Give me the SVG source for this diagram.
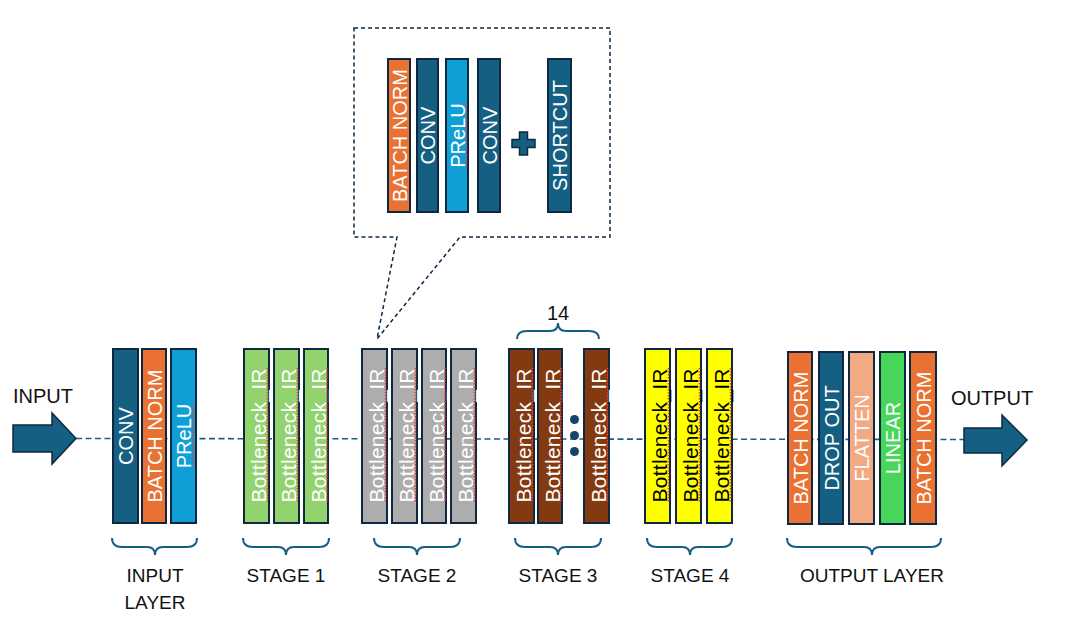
<svg xmlns="http://www.w3.org/2000/svg" width="1080" height="623" viewBox="0 0 1080 623">
<style>
.blk{stroke:#0E2841;stroke-width:2}
.conv{fill:#156082}
.bn{fill:#E97132}
.prelu{fill:#0F9ED5}
.g{fill:#92D36E}
.gr{fill:#ADADAD}
.br{fill:#843A10}
.y{fill:#FFFF00}
.fl{fill:#F2AA84}
.li{fill:#48D65A}
.t{font-family:"Liberation Sans",Arial,sans-serif;font-size:20px;fill:#fff;text-anchor:middle}
.tb{font-family:"Liberation Sans",Arial,sans-serif;font-size:21px;fill:#fff;text-anchor:middle}
.dk{fill:#000}
.lbl{font-family:"Liberation Sans",Arial,sans-serif;font-size:19px;fill:#111;text-anchor:middle}
.brace{fill:none;stroke:#156082;stroke-width:2}
.sq{stroke:#E83A3A;stroke-width:1.5;stroke-dasharray:1.5 1.5}
.arrow{fill:#156082;stroke:#0E2841;stroke-width:1.5}
</style>
<rect width="1080" height="623" fill="#fff"/>

<g id="connectors">
  <line x1="76" y1="438.5" x2="964" y2="439.5" stroke="#156082" stroke-width="1.6" stroke-dasharray="6 3.5"/>
</g>

<g id="callout">
  <path d="M354,28 H610 V237 H460 L377,339 L397,237 H354 Z" fill="#fff" stroke="#0E2841" stroke-width="1.5" stroke-dasharray="4 3"/>
  <g id="inset-batchnorm"><rect class="blk bn" x="388" y="59" width="22" height="153"/><text class="t" transform="translate(406.5,135.5) rotate(-90)">BATCH NORM</text></g>
  <g id="inset-conv1"><rect class="blk conv" x="417" y="59" width="21" height="153"/><text class="t" transform="translate(435,135.5) rotate(-90)">CONV</text></g>
  <g id="inset-prelu"><rect class="blk prelu" x="446" y="59" width="22" height="153"/><text class="t" transform="translate(464.5,135.5) rotate(-90)">PReLU</text><line class="sq" x1="466.5" y1="103" x2="466.5" y2="168"/></g>
  <g id="inset-conv2"><rect class="blk conv" x="478" y="59" width="22" height="153"/><text class="t" transform="translate(496.5,135.5) rotate(-90)">CONV</text></g>
  <g id="inset-plus"><path class="arrow" d="M519.5,132 h8 v7.5 h7.5 v8 h-7.5 v7.5 h-8 v-7.5 h-7.5 v-8 h7.5 Z"/></g>
  <g id="inset-shortcut"><rect class="blk conv" x="548" y="59" width="23" height="153"/><text class="t" transform="translate(567,135.5) rotate(-90)">SHORTCUT</text></g>
</g>

<g id="input">
  <text class="lbl" x="43" y="403" style="font-size:20px">INPUT</text>
  <path class="arrow" d="M13,425 H52 V413 L76,438.5 L52,464 V452 H13 Z"/>
</g>

<g id="input-layer">
  <rect class="blk conv" x="113" y="349" width="25" height="174"/><text class="t" transform="translate(133,436) rotate(-90)">CONV</text>
  <rect class="blk bn" x="142" y="349" width="24" height="174"/><text class="t" transform="translate(161.5,436) rotate(-90)">BATCH NORM</text>
  <rect class="blk prelu" x="171" y="349" width="25" height="174"/><text class="t" transform="translate(191,436) rotate(-90)">PReLU</text>
  <line class="sq" x1="193" y1="405" x2="193" y2="468"/>
  <path class="brace" d="M112,538 Q112,547 122,547 H147 Q155,547 155,555 Q155,547 163,547 H187 Q197,547 197,538"/>
  <text class="lbl" x="155" y="582">INPUT</text>
  <text class="lbl" x="155" y="609">LAYER</text>
</g>

<g id="stage1">
  <rect class="blk g" x="244" y="349" width="25" height="174"/><text class="tb" textLength="134" transform="translate(266,435.5) rotate(-90)">Bottleneck_IR</text><line class="sq" x1="267.5" y1="368" x2="267.5" y2="503"/>
  <rect class="blk g" x="274" y="349" width="25" height="174"/><text class="tb" textLength="134" transform="translate(296,435.5) rotate(-90)">Bottleneck_IR</text><line class="sq" x1="297.5" y1="368" x2="297.5" y2="503"/>
  <rect class="blk g" x="304" y="349" width="24" height="174"/><text class="tb" textLength="134" transform="translate(325.5,435.5) rotate(-90)">Bottleneck_IR</text><line class="sq" x1="327" y1="368" x2="327" y2="503"/>
  <path class="brace" d="M243,538 Q243,547 253,547 H278 Q286,547 286,555 Q286,547 294,547 H319 Q329,547 329,538"/>
  <text class="lbl" x="286" y="582">STAGE 1</text>
</g>

<g id="stage2">
  <rect class="blk gr" x="362" y="349" width="25" height="174"/><text class="tb" textLength="134" transform="translate(384,435.5) rotate(-90)">Bottleneck_IR</text><line class="sq" x1="385.5" y1="368" x2="385.5" y2="503"/>
  <rect class="blk gr" x="392" y="349" width="25" height="174"/><text class="tb" textLength="134" transform="translate(414,435.5) rotate(-90)">Bottleneck_IR</text><line class="sq" x1="415.5" y1="368" x2="415.5" y2="503"/>
  <rect class="blk gr" x="422" y="349" width="24" height="174"/><text class="tb" textLength="134" transform="translate(443.5,435.5) rotate(-90)">Bottleneck_IR</text><line class="sq" x1="445" y1="368" x2="445" y2="503"/>
  <rect class="blk gr" x="451" y="349" width="25" height="174"/><text class="tb" textLength="134" transform="translate(473,435.5) rotate(-90)">Bottleneck_IR</text><line class="sq" x1="474.5" y1="368" x2="474.5" y2="503"/>
  <path class="brace" d="M374,538 Q374,547 384,547 H409 Q417,547 417,555 Q417,547 425,547 H450 Q460,547 460,538"/>
  <text class="lbl" x="417" y="582">STAGE 2</text>
</g>

<g id="stage3">
  <rect class="blk br" x="509" y="349" width="25" height="174"/><text class="tb" textLength="134" transform="translate(531,435.5) rotate(-90)">Bottleneck_IR</text><line class="sq" x1="532.5" y1="368" x2="532.5" y2="503"/>
  <rect class="blk br" x="538" y="349" width="24" height="174"/><text class="tb" textLength="134" transform="translate(559.5,435.5) rotate(-90)">Bottleneck_IR</text><line class="sq" x1="561" y1="368" x2="561" y2="503"/>
  <circle cx="574.5" cy="419.5" r="4.5" fill="#17456A"/>
  <circle cx="574.5" cy="435.5" r="4.5" fill="#17456A"/>
  <circle cx="574.5" cy="451.5" r="4.5" fill="#17456A"/>
  <rect class="blk br" x="584" y="349" width="25" height="174"/><text class="tb" textLength="134" transform="translate(606,435.5) rotate(-90)">Bottleneck_IR</text><line class="sq" x1="607.5" y1="368" x2="607.5" y2="503"/>
  <path class="brace" d="M517,339 Q517,331 527,331 H550 Q558,331 558,323 Q558,331 566,331 H589 Q599,331 599,339"/>
  <text class="lbl" x="558" y="320" style="font-size:20px">14</text>
  <path class="brace" d="M515,538 Q515,547 525,547 H550 Q558,547 558,555 Q558,547 566,547 H591 Q601,547 601,538"/>
  <text class="lbl" x="558" y="582">STAGE 3</text>
</g>

<g id="stage4">
  <rect class="blk y" x="645" y="349" width="25" height="174"/><text class="tb dk" textLength="134" transform="translate(667,435.5) rotate(-90)">Bottleneck_IR</text><line class="sq" x1="668.5" y1="368" x2="668.5" y2="503"/>
  <rect class="blk y" x="676" y="349" width="25" height="174"/><text class="tb dk" textLength="134" transform="translate(698,435.5) rotate(-90)">Bottleneck_IR</text><line class="sq" x1="699.5" y1="368" x2="699.5" y2="503"/>
  <rect class="blk y" x="707" y="349" width="25" height="174"/><text class="tb dk" textLength="134" transform="translate(729,435.5) rotate(-90)">Bottleneck_IR</text><line class="sq" x1="730.5" y1="368" x2="730.5" y2="503"/>
  <path class="brace" d="M647,538 Q647,547 657,547 H682 Q690,547 690,555 Q690,547 698,547 H722 Q732,547 732,538"/>
  <text class="lbl" x="690" y="582">STAGE 4</text>
</g>

<g id="output-layer">
  <rect class="blk bn" x="788" y="352" width="24" height="172"/><text class="t" transform="translate(807.5,438) rotate(-90)">BATCH NORM</text>
  <rect class="blk conv" x="819" y="352" width="24" height="172"/><text class="t" transform="translate(838.5,438) rotate(-90)">DROP OUT</text>
  <rect class="blk fl" x="849" y="352" width="25" height="172"/><text class="t" transform="translate(869,438) rotate(-90)">FLATTEN</text>
  <rect class="blk li" x="880" y="352" width="25" height="172"/><text class="t" transform="translate(900,438) rotate(-90)">LINEAR</text>
  <rect class="blk bn" x="910" y="352" width="26" height="172"/><text class="t" transform="translate(930.5,438) rotate(-90)">BATCH NORM</text>
  <path class="brace" d="M787,538 Q787,547 797,547 H864 Q872,547 872,555 Q872,547 880,547 H931 Q941,547 941,538"/>
  <text class="lbl" x="872" y="582">OUTPUT LAYER</text>
</g>

<g id="output">
  <text class="lbl" x="992" y="405" style="font-size:20px">OUTPUT</text>
  <path class="arrow" d="M964,428 H1002 V415 L1027,440 L1002,466 V453 H964 Z"/>
</g>
</svg>
